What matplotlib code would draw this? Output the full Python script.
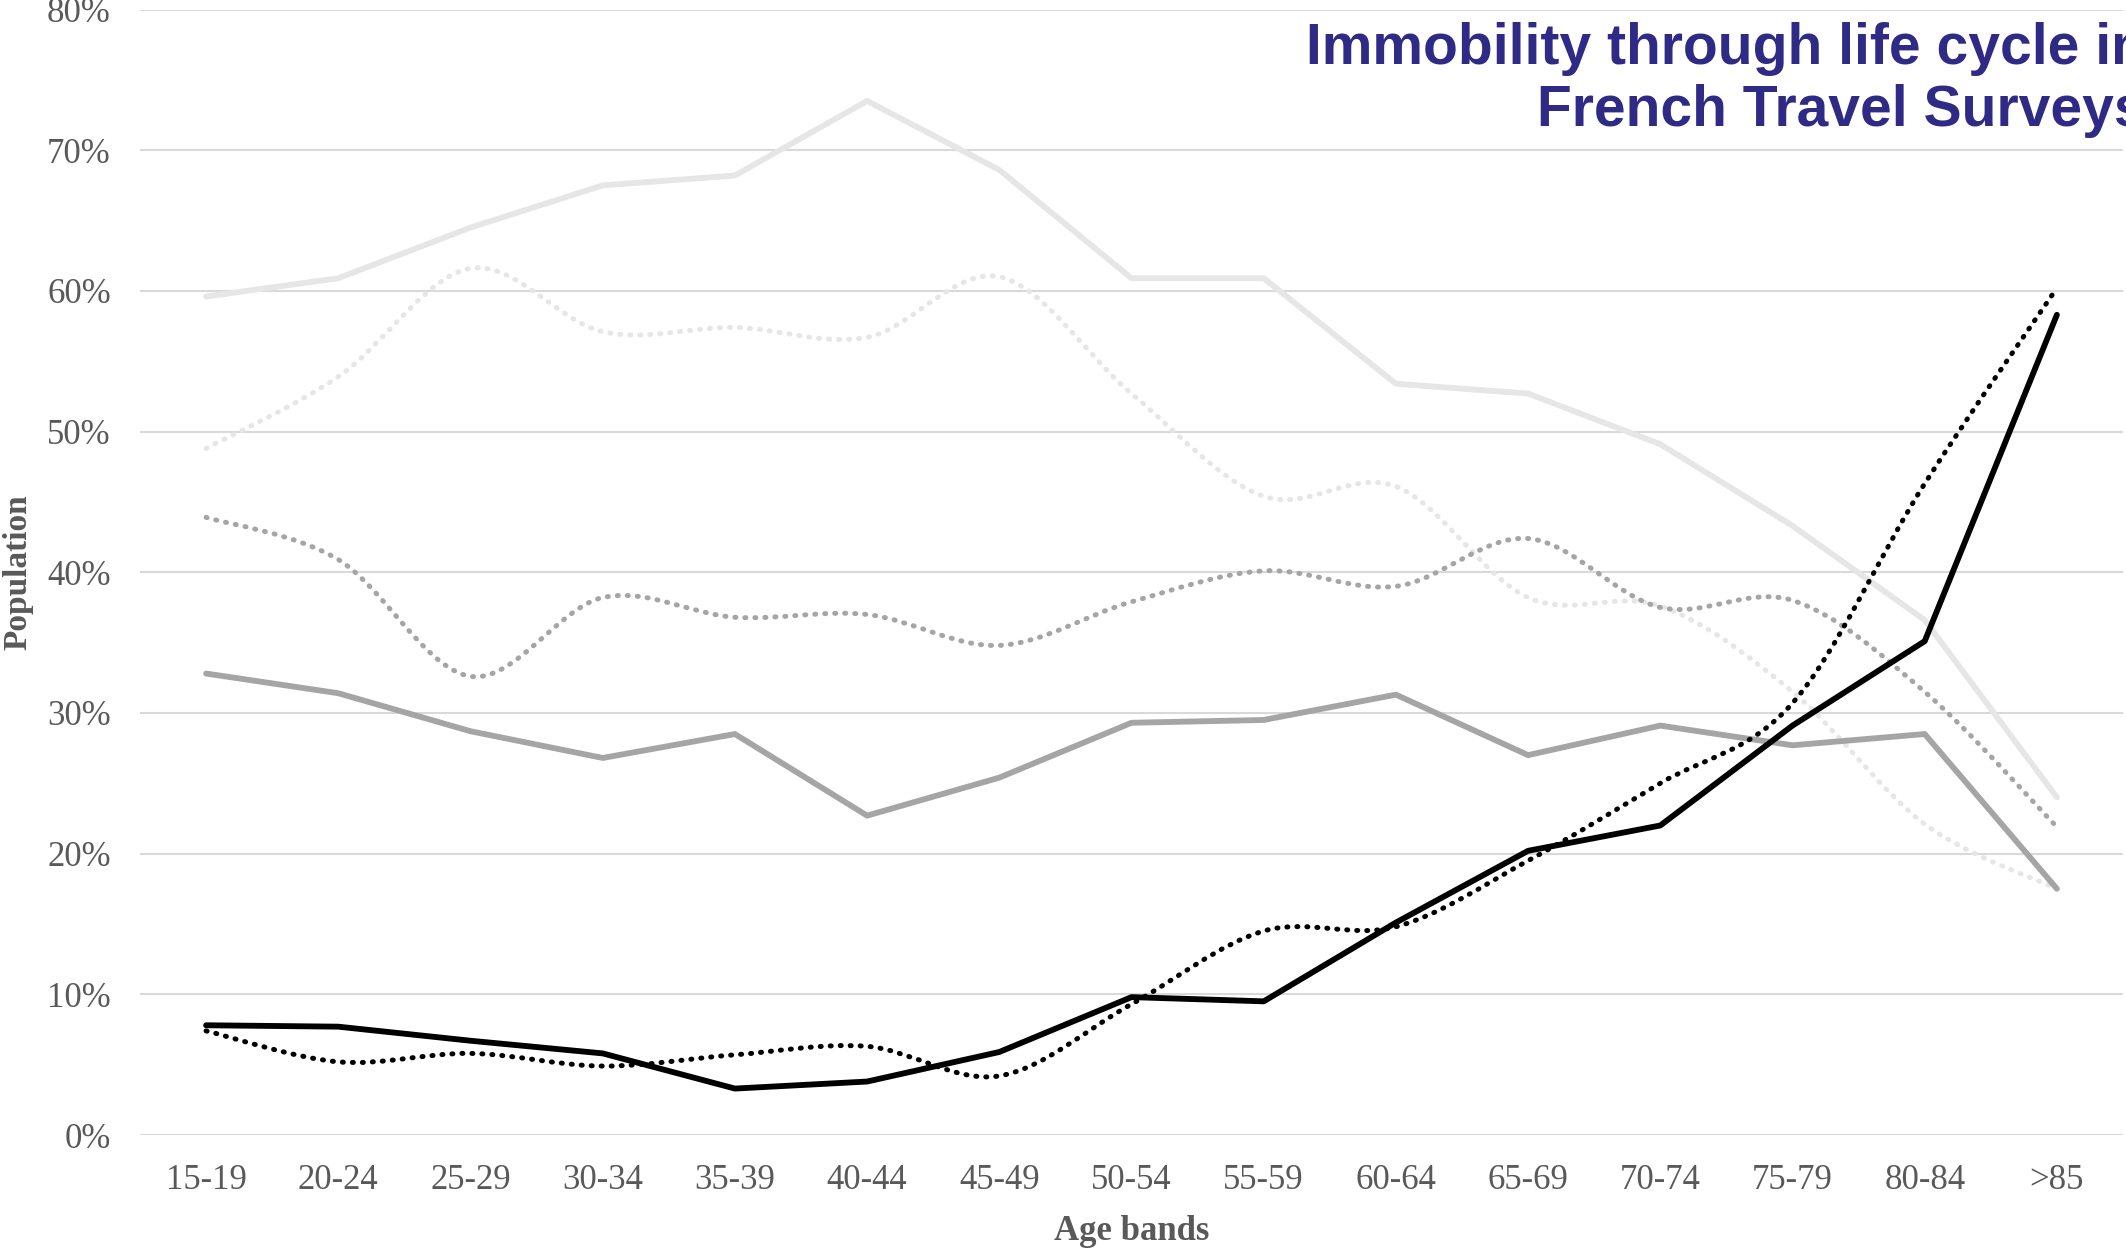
import numpy as np
import matplotlib
matplotlib.use("Agg")
import matplotlib.pyplot as plt
from matplotlib.path import Path
from matplotlib.patches import PathPatch
from matplotlib.ticker import FuncFormatter, MultipleLocator

# data (share of population not moving, %)
age_bands = ["15-19", "20-24", "25-29", "30-34", "35-39", "40-44", "45-49", "50-54",
             "55-59", "60-64", "65-69", "70-74", "75-79", "80-84", ">85"]
light_solid = [59.6, 60.9, 64.5, 67.5, 68.2, 73.5, 68.6, 60.9, 60.9, 53.4, 52.7, 49.1, 43.3, 36.6, 24.0]
light_dotted = [48.8, 53.9, 61.6, 57.1, 57.4, 56.7, 61.0, 52.7, 45.4, 46.1, 38.2, 37.6, 31.5, 22.1, 17.5]
grey_solid = [32.8, 31.4, 28.7, 26.8, 28.5, 22.7, 25.4, 29.3, 29.5, 31.3, 27.0, 29.1, 27.7, 28.5, 17.5]
grey_dotted = [43.9, 40.9, 32.6, 38.2, 36.8, 37.0, 34.8, 37.9, 40.1, 39.0, 42.4, 37.5, 38.0, 31.5, 21.9]
black_solid = [7.8, 7.7, 6.7, 5.8, 3.3, 3.8, 5.9, 9.8, 9.5, 15.1, 20.2, 22.0, 29.1, 35.1, 58.3]
black_dotted = [7.4, 5.2, 5.8, 4.9, 5.7, 6.3, 4.2, 9.3, 14.5, 14.8, 19.5, 25.0, 30.7, 46.3, 60.2]


def smooth_path(xs, ys):
    # smoothed line like Excel: bezier segments through every point
    pts = np.column_stack([xs, ys]).astype(float)
    n = len(pts)
    verts = [pts[0]]
    codes = [Path.MOVETO]
    for i in range(n - 1):
        p0 = pts[max(i - 1, 0)]
        p1 = pts[i]
        p2 = pts[i + 1]
        p3 = pts[min(i + 2, n - 1)]
        verts += [p1 + (p2 - p0) / 6, p2 - (p3 - p1) / 6, p2]
        codes += [Path.CURVE4] * 3
    return Path(verts, codes)


fig = plt.figure(figsize=(21.26, 12.49), dpi=100)
ax = fig.add_axes([140 / 2126, 1 - 1135 / 1249, 1983 / 2126, 1125.5 / 1249])

x = np.arange(len(age_bands))
dots = (0, (0.2, 1.8))

ax.plot(x, light_solid, color="#e6e6e6", lw=4.2, solid_capstyle="round", solid_joinstyle="round", zorder=2)
ax.add_patch(PathPatch(smooth_path(x, light_dotted), fill=False, edgecolor="#e6e6e6",
                       lw=3.6, linestyle=dots, capstyle="round", zorder=3))
ax.plot(x, grey_solid, color="#a5a5a5", lw=4.2, solid_capstyle="round", solid_joinstyle="round", zorder=4)
ax.add_patch(PathPatch(smooth_path(x, grey_dotted), fill=False, edgecolor="#a5a5a5",
                       lw=3.6, linestyle=dots, capstyle="round", zorder=5))
ax.plot(x, black_solid, color="black", lw=4.2, solid_capstyle="round", solid_joinstyle="round", zorder=6)
ax.add_patch(PathPatch(smooth_path(x, black_dotted), fill=False, edgecolor="black",
                       lw=3.6, linestyle=dots, capstyle="round", zorder=7))

ax.set_xlim(-0.5, len(age_bands) - 0.5)
ax.set_ylim(0, 80)
ax.set_xticks(x)
ax.set_xticklabels(age_bands)
ax.yaxis.set_major_locator(MultipleLocator(10))
ax.yaxis.set_major_formatter(FuncFormatter(lambda v, p: "%d%%" % v))

ax.grid(axis="y", color="#d9d9d9", lw=1.5)
ax.set_axisbelow(True)
for s in ax.spines.values():
    s.set_visible(False)
ax.tick_params(length=0, labelsize=25, labelcolor="#595959", pad=21)
for lab in ax.get_xticklabels() + ax.get_yticklabels():
    lab.set_family("Liberation Serif")

ax.set_xlabel("Age bands", family="Liberation Serif", fontweight="bold", fontsize=25,
              color="#595959")
ax.set_ylabel("Population", family="Liberation Serif", fontweight="bold", fontsize=24,
              color="#595959")
ax.xaxis.set_label_coords(0.5, (1135 - 1215) / 1125.5)
ax.yaxis.set_label_coords((33 - 140) / 1983, 0.5)

# title runs past the right edge, as in the original
fig.text(2146 / 2126, 1 - 22 / 1249, "Immobility through life cycle in\nFrench Travel Surveys",
         ha="right", va="top", multialignment="right", fontsize=41, fontweight="bold",
         color="#2e2a86", family="Liberation Sans", linespacing=1.2)

fig.savefig("out.png", dpi=100)
